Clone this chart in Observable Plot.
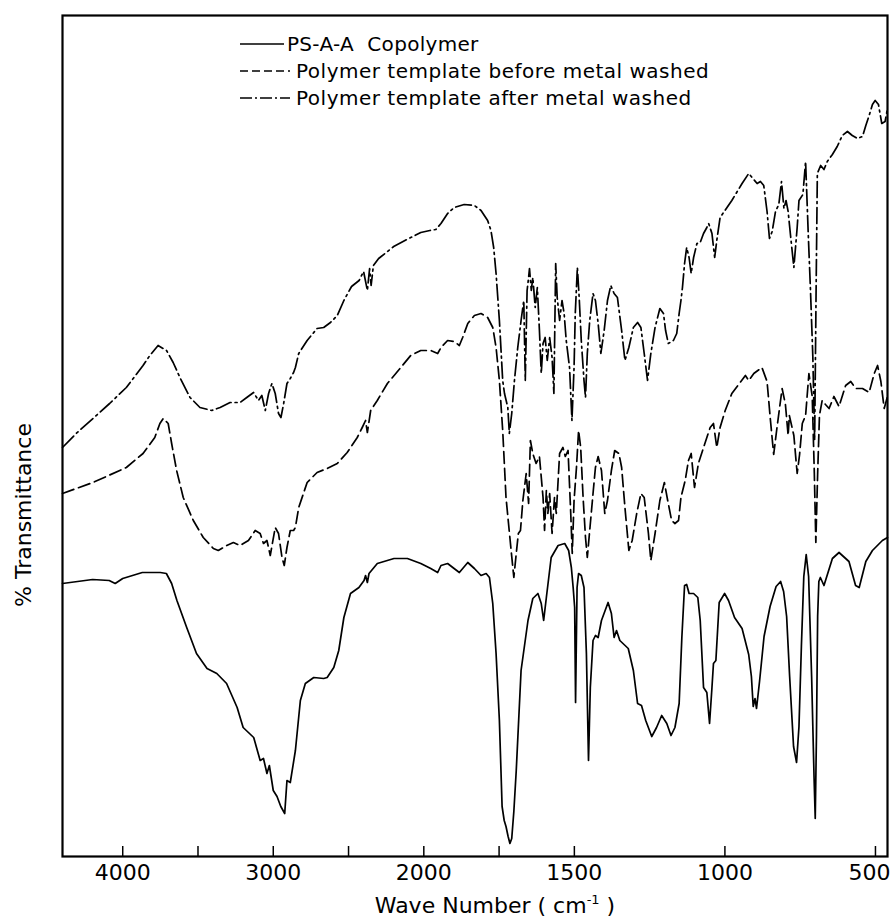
<!DOCTYPE html>
<html><head><meta charset="utf-8">
<script src="https://cdn.jsdelivr.net/npm/d3@7"></script>
<script src="https://cdn.jsdelivr.net/npm/@observablehq/plot@0.6"></script>
<style>body{margin:0;background:#fff} svg{display:block}</style>
</head><body><div id="chart"></div>
<script>
// wave number (cm-1), transmittance (arbitrary %, offset spectra)
const copolymer = [[4400,27.3],[4200,27.7],[4090,27.6],[4050,27.3],[4000,27.8],[3870,28.4],[3750,28.4],[3710,28.3],[3675,27.3],[3640,25.6],[3575,22.9],[3510,20.3],[3440,18.8],[3375,18.3],[3310,17.3],[3240,14.9],[3200,12.9],[3130,11.9],[3087,9.6],[3065,9.8],[3042,8.3],[3026,9.1],[3000,6.6],[2975,6.0],[2950,5.0],[2924,4.3],[2909,7.6],[2887,7.4],[2853,10.6],[2820,15.6],[2787,17.3],[2731,17.9],[2665,17.8],[2642,17.9],[2598,18.9],[2565,20.6],[2531,23.9],[2487,26.3],[2431,26.9],[2397,27.6],[2387,28.1],[2375,27.4],[2364,28.3],[2309,29.3],[2198,29.8],[2109,29.8],[2020,29.3],[1977,28.8],[1954,28.4],[1943,29.1],[1921,29.3],[1882,28.4],[1854,29.4],[1832,28.8],[1810,28.1],[1793,28.3],[1782,27.9],[1771,25.3],[1760,20.3],[1749,13.6],[1740,5.0],[1733,3.6],[1727,3.0],[1720,2.0],[1714,1.3],[1708,1.8],[1701,4.5],[1693,8.6],[1677,18.6],[1654,23.6],[1638,25.8],[1621,26.3],[1610,25.3],[1602,23.6],[1593,25.9],[1577,29.9],[1554,31.1],[1532,31.3],[1519,30.6],[1510,28.9],[1504,26.9],[1499,24.9],[1496,15.4],[1491,26.9],[1486,28.3],[1477,28.1],[1468,26.9],[1460,20.3],[1453,9.6],[1447,16.9],[1438,21.6],[1430,22.1],[1421,21.9],[1410,23.6],[1388,25.4],[1377,24.3],[1368,21.9],[1360,22.6],[1349,21.6],[1321,20.8],[1304,18.6],[1290,15.3],[1277,15.1],[1263,13.6],[1243,12.0],[1227,12.9],[1210,14.1],[1193,13.3],[1179,12.1],[1166,12.9],[1152,15.3],[1143,21.9],[1134,27.1],[1127,27.2],[1119,26.3],[1104,26.3],[1090,25.9],[1082,23.6],[1071,16.9],[1060,16.4],[1051,13.3],[1043,16.9],[1038,19.3],[1030,19.6],[1019,25.4],[1001,26.3],[988,25.6],[968,23.9],[943,22.8],[921,20.2],[912,18.0],[906,15.0],[900,15.8],[895,14.8],[885,17.5],[870,22],[850,25],[830,27.0],[815,27.5],[805,26.5],[795,24],[785,18],[772,11],[762,9.4],[754,13],[746,21],[738,28],[730,30.2],[722,28],[712,18],[704,8],[700,3.8],[696,12],[692,24],[688,27.5],[683,27.9],[671,27.1],[643,29.8],[621,30.4],[588,29.5],[566,27.1],[554,26.9],[532,29.5],[510,30.6],[477,31.6],[460,31.9]];

const beforeWash = [[4400,36.3],[4198,37.4],[3976,38.9],[3865,40.3],[3787,41.9],[3753,43.3],[3731,43.8],[3698,43.3],[3675,41.3],[3642,38.6],[3598,35.9],[3531,33.6],[3465,31.9],[3398,30.8],[3365,30.6],[3309,31.1],[3265,31.4],[3220,31.1],[3165,31.6],[3120,32.6],[3087,32.3],[3065,31.3],[3042,31.6],[3020,30.1],[2987,32.9],[2965,32.3],[2942,29.9],[2927,29.1],[2909,30.9],[2887,32.6],[2865,32.6],[2853,32.9],[2831,34.9],[2775,37.4],[2709,38.4],[2642,38.8],[2575,39.3],[2509,40.4],[2442,41.9],[2409,42.9],[2387,43.6],[2375,42.4],[2353,44.6],[2309,45.6],[2242,47.3],[2153,48.9],[2087,50.1],[2020,50.6],[1977,50.6],[1954,50.3],[1943,50.9],[1921,51.6],[1899,51.5],[1882,51.1],[1871,51.9],[1854,53.3],[1832,54.1],[1810,54.3],[1788,53.9],[1771,52.9],[1760,50.9],[1749,47.6],[1738,42.6],[1727,35.9],[1710,30.6],[1701,27.9],[1693,30.3],[1686,32.3],[1679,32.6],[1671,35.6],[1660,38.3],[1652,35.3],[1646,41.6],[1638,40.3],[1627,39.3],[1616,40.0],[1604,35.9],[1599,32.6],[1593,36.6],[1588,34.3],[1582,36.3],[1574,32.3],[1566,35.9],[1560,34.3],[1549,40.3],[1538,40.9],[1530,40.0],[1521,40.6],[1512,34.3],[1507,30.3],[1501,35.6],[1493,38.9],[1486,42.6],[1479,40.9],[1471,35.9],[1463,31.9],[1457,29.9],[1449,32.6],[1438,36.3],[1430,38.9],[1421,40.0],[1410,38.6],[1399,34.3],[1390,35.6],[1377,38.6],[1366,40.6],[1352,40.3],[1343,38.9],[1332,34.9],[1319,30.6],[1308,31.6],[1293,34.3],[1279,36.3],[1268,35.9],[1254,32.3],[1246,29.6],[1232,32.3],[1216,35.6],[1201,37.4],[1190,35.6],[1177,33.6],[1166,33.3],[1154,33.6],[1146,35.9],[1132,37.6],[1121,39.6],[1112,40.3],[1101,36.9],[1088,39.3],[1071,40.9],[1049,42.9],[1038,43.3],[1027,40.9],[1016,42.9],[999,44.6],[977,46.3],[932,48.1],[921,47.6],[904,48.3],[877,48.9],[860,47.5],[849,43.7],[838,40.2],[827,42.9],[810,46.8],[799,45.2],[790,42.1],[786,44.1],[771,42.1],[760,38.3],[752,40.2],[743,43.3],[732,44.1],[721,48.3],[710,46.0],[703,38.3],[698,31.4],[692,38.3],[686,44.1],[677,45.6],[666,45.2],[654,44.8],[638,46.0],[621,45.0],[599,47.1],[582,47.5],[566,46.8],[543,46.8],[521,46.4],[504,48.3],[493,49.1],[482,47.5],[471,44.8],[460,46.0]];

const afterWash = [[4400,40.9],[4309,42.3],[4198,43.8],[4087,45.3],[3976,46.9],[3865,49.1],[3820,50.1],[3765,51.1],[3709,50.6],[3665,49.4],[3620,47.9],[3553,45.9],[3487,44.9],[3409,44.6],[3353,44.9],[3287,45.4],[3220,45.4],[3176,45.9],[3131,46.4],[3098,45.6],[3076,46.1],[3053,44.6],[3031,46.3],[3009,47.3],[2987,46.3],[2965,44.3],[2949,43.9],[2931,45.3],[2909,47.3],[2887,47.8],[2865,48.4],[2853,48.9],[2831,50.3],[2775,51.6],[2709,52.8],[2665,52.9],[2620,53.4],[2575,54.1],[2531,55.6],[2480,57.0],[2430,57.6],[2400,58.5],[2375,56.6],[2360,58.8],[2350,57.1],[2335,59.1],[2300,59.8],[2200,61.0],[2100,61.8],[2020,62.4],[1980,62.6],[1960,62.7],[1943,63.3],[1921,64.3],[1899,64.9],[1866,65.2],[1832,65.1],[1810,64.6],[1788,63.6],[1777,62.6],[1768,60.9],[1760,58.3],[1749,53.6],[1738,47.6],[1732,46.3],[1721,44.9],[1716,42.3],[1708,44.3],[1699,47.6],[1688,50.9],[1677,53.6],[1668,55.6],[1663,47.6],[1657,56.6],[1652,57.9],[1649,58.8],[1643,56.6],[1638,57.9],[1630,54.9],[1623,56.9],[1616,52.6],[1610,48.3],[1604,51.3],[1597,51.9],[1590,49.6],[1582,51.9],[1574,49.9],[1568,46.3],[1562,59.3],[1557,55.9],[1549,53.6],[1541,55.6],[1534,54.3],[1527,51.6],[1516,48.9],[1508,43.6],[1501,48.9],[1497,54.3],[1490,58.9],[1484,55.9],[1477,51.6],[1468,47.6],[1463,45.9],[1457,50.3],[1449,53.6],[1438,56.3],[1430,55.6],[1421,53.3],[1412,50.3],[1401,52.6],[1390,55.6],[1379,57.1],[1368,56.3],[1357,55.9],[1343,52.6],[1332,49.6],[1319,50.9],[1304,52.9],[1290,53.4],[1279,52.9],[1268,50.3],[1257,47.6],[1246,50.3],[1232,52.9],[1216,54.8],[1204,54.3],[1197,52.6],[1188,51.3],[1171,51.6],[1160,52.3],[1152,54.3],[1146,55.6],[1141,56.9],[1134,59.3],[1127,60.9],[1119,59.9],[1112,58.3],[1104,59.9],[1093,61.3],[1082,61.4],[1071,62.3],[1060,62.9],[1054,63.3],[1043,62.3],[1034,59.9],[1027,61.6],[1016,63.9],[993,64.9],[977,65.6],[943,67.3],[921,68.3],[893,67.3],[882,67.5],[871,67.1],[860,64.5],[852,61.8],[843,62.5],[832,64.5],[821,65.2],[812,67.5],[804,64.8],[797,65.6],[790,64.5],[782,62.1],[771,58.9],[760,62.9],[754,65.6],[741,66.2],[732,69.5],[723,62.1],[716,56.8],[708,50],[702,41.6],[697,57],[693,68.3],[682,69.1],[671,68.7],[660,69.5],[643,70.2],[627,71.0],[610,72.1],[593,72.5],[577,72.1],[560,71.8],[543,72.0],[532,73.1],[521,74.1],[510,75.2],[501,75.6],[490,75.2],[479,73.3],[468,73.5],[460,74.8]];

const labeledTicks = [4000, 3000, 2000, 1500, 1000, 500];
const tickMarks = [4000, 3500, 3000, 2500, 2000, 1750, 1500, 1000, 500];
const seriesNames = ["PS-A-A  Copolymer", "Polymer template before metal washed", "Polymer template after metal washed"];
const seriesDash = [null, "12,5", "16,4,2,4"];
const legendDash = [null, "8,4", "12,3,2,3"];
const xLabel = "Wave Number ( cm";
const yLabel = "% Transmittance";

// the chart paper changes scale at 2000 cm-1: above it, 2x compressed
const warp = w => (w >= 2000 ? 2000 + (w - 2000) / 2 : w);
const unwarp = v => (v >= 2000 ? 2000 + (v - 2000) * 2 : v);

const rows = (arr) => arr.map(([wn, t]) => ({wn, t}));
const seriesData = [copolymer, beforeWash, afterWash].map(rows);

const chart = Plot.plot({
  width: 894, height: 922,
  marginTop: 15, marginBottom: 66, marginLeft: 62, marginRight: 7,
  style: {background: "#fff", color: "#000", fontFamily: "DejaVu Sans, sans-serif", fontSize: "22px"},
  x: {domain: [warp(4400), warp(460)], ticks: labeledTicks.map(warp), tickSize: 0, tickPadding: 8,
      tickFormat: v => String(Math.round(unwarp(v))), label: null},
  y: {domain: [0, 84.1], axis: null},
  marks: [
    Plot.ruleX(tickMarks, {x: d => warp(d), y1: 0, y2: 1.0, stroke: "#000", strokeWidth: 1.5}),
    ...seriesData.map((d, i) => Plot.line(d, {x: r => warp(r.wn), y: "t", stroke: "#000", strokeWidth: 1.7,
      strokeDasharray: seriesDash[i] || undefined})),
    Plot.frame({stroke: "#000", strokeWidth: 2.2})
  ]
});
document.getElementById("chart").appendChild(chart);

const svg = d3.select(chart);
// keep the last tick label inside the picture
svg.selectAll("text").filter(function() { return this.textContent === "500"; }).attr("dx", "-6");
// legend
const legendRows = [44, 71, 98];
const lg = svg.append("g").attr("font-family", "DejaVu Sans, sans-serif").attr("font-size", 20)
  .attr("fill", "#000").attr("text-anchor", "start");
seriesNames.forEach((name, i) => {
  const y = legendRows[i];
  const ln = lg.append("line").attr("x1", 240).attr("x2", i === 0 ? 284 : 290).attr("y1", y).attr("y2", y)
    .attr("stroke", "#000").attr("stroke-width", 1.6);
  if (legendDash[i]) ln.attr("stroke-dasharray", legendDash[i]);
  lg.append("text").attr("x", i === 0 ? 287 : 296).attr("y", y).attr("dy", "0.36em")
    .attr("letter-spacing", i === 0 ? 0.3 : 0.5).style("white-space", "pre").text(name);
});
// x title
const xt = svg.append("text").attr("x", 495).attr("y", 913).attr("text-anchor", "middle")
  .attr("font-family", "DejaVu Sans, sans-serif").attr("font-size", 22).attr("fill", "#000");
xt.append("tspan").text(xLabel);
xt.append("tspan").attr("font-size", 13).attr("dy", -9).text("-1");
xt.append("tspan").attr("dy", 9).text(" )");
// y title
svg.append("text").attr("transform", "translate(31,515) rotate(-90)").attr("text-anchor", "middle")
  .attr("font-family", "DejaVu Sans, sans-serif").attr("font-size", 22).attr("fill", "#000").text(yLabel);
</script>
</body></html>
